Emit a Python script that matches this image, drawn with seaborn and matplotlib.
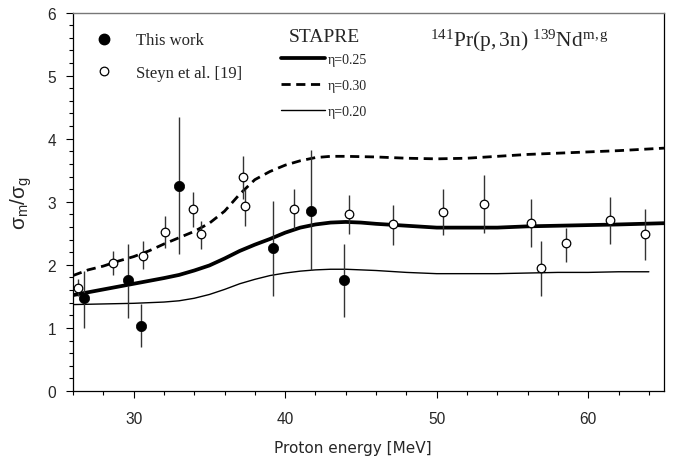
import numpy as np
import pandas as pd
import matplotlib
matplotlib.use("Agg")
import matplotlib.pyplot as plt
import seaborn as sns
from matplotlib.lines import Line2D
from matplotlib.ticker import MultipleLocator

# ---------------- data ----------------
# This work (filled circles)
tw_E = [26.7, 29.6, 30.5, 33.0, 39.2, 41.7, 43.9]
tw_y = [1.48, 1.76, 1.03, 3.25, 2.26, 2.86, 1.76]
tw_lo = [1.00, 1.15, 0.70, 2.17, 1.51, 1.92, 1.18]
tw_hi = [1.90, 2.33, 1.38, 4.35, 3.01, 3.82, 2.33]

# Steyn et al. [19] (open circles)
st_E = [26.35, 28.65, 30.65, 32.05, 33.95, 34.45, 37.25, 37.35, 40.6, 44.2,
        47.1, 50.4, 53.1, 56.2, 56.9, 58.5, 61.45, 63.75]
st_y = [1.64, 2.03, 2.14, 2.52, 2.88, 2.49, 3.39, 2.93, 2.88, 2.80,
        2.64, 2.84, 2.96, 2.66, 1.95, 2.35, 2.71, 2.49]
st_lo = [1.50, 1.84, 1.93, 2.26, 2.60, 2.25, 3.05, 2.62, 2.57, 2.49,
         2.32, 2.48, 2.50, 2.28, 1.51, 2.05, 2.33, 2.08]
st_hi = [1.78, 2.22, 2.37, 2.77, 3.16, 2.70, 3.73, 3.20, 3.20, 3.11,
         2.95, 3.20, 3.42, 3.04, 2.38, 2.59, 3.07, 2.88]

# STAPRE curves
e25_E = [26, 28, 30, 32, 33, 34, 35, 36, 37, 38, 39, 40, 41, 42, 43, 44, 45, 46,
         48, 50, 52, 54, 56, 58, 60, 62, 65]
e25_y = [1.52, 1.61, 1.70, 1.79, 1.84, 1.91, 1.99, 2.10, 2.22, 2.32, 2.41, 2.51,
         2.59, 2.64, 2.67, 2.68, 2.67, 2.65, 2.62, 2.59, 2.59, 2.59, 2.61, 2.62,
         2.63, 2.64, 2.66]
e30_E = [26, 27, 28, 29, 30, 31, 32, 33, 34, 35, 36, 37, 38, 39, 40, 41, 42, 43,
         44, 46, 48, 50, 52, 54, 56, 58, 60, 62, 65]
e30_y = [1.83, 1.92, 1.98, 2.06, 2.13, 2.22, 2.33, 2.43, 2.53, 2.66, 2.85, 3.12,
         3.35, 3.48, 3.58, 3.65, 3.70, 3.72, 3.72, 3.71, 3.69, 3.68, 3.69, 3.72,
         3.75, 3.77, 3.79, 3.81, 3.85]
e20_E = [26, 28, 30, 32, 33, 34, 35, 36, 37, 38, 39, 40, 41, 42, 43, 44, 46, 48,
         50, 52, 54, 56, 58, 60, 62, 64]
e20_y = [1.37, 1.38, 1.39, 1.41, 1.43, 1.47, 1.53, 1.61, 1.70, 1.77, 1.83, 1.87,
         1.90, 1.92, 1.93, 1.93, 1.91, 1.88, 1.86, 1.86, 1.86, 1.87, 1.88, 1.88,
         1.89, 1.89]

x_ticks = [30, 40, 50, 60]
y_ticks = [0, 1, 2, 3, 4, 5, 6]
legend_points = ["This work", "Steyn et al. [19]"]
legend_lines = ["\u03b7=0.25", "\u03b7=0.30", "\u03b7=0.20"]

# ---------------- style ----------------
sns.set_style("ticks")
plt.rcParams["font.family"] = ["Liberation Sans", "DejaVu Sans"]
plt.rcParams["mathtext.fontset"] = "custom"
plt.rcParams["mathtext.rm"] = "Liberation Serif"
plt.rcParams["mathtext.sf"] = "Liberation Sans"
plt.rcParams["mathtext.it"] = "Liberation Serif:italic"

W, H = 682, 460
fig = plt.figure(figsize=(W / 100, H / 100), dpi=100)
ax = fig.add_axes([73 / W, (H - 392) / H, 591 / W, (392 - 13.5) / H])

# curves
sns.lineplot(x=e25_E, y=e25_y, ax=ax, color="black", lw=2.7, estimator=None, sort=False, zorder=3)
sns.lineplot(x=e30_E, y=e30_y, ax=ax, color="black", lw=2.0, estimator=None, sort=False,
             linestyle=(0, (3.3, 2.0)), zorder=3)
sns.lineplot(x=e20_E, y=e20_y, ax=ax, color="black", lw=1.0, estimator=None, sort=False, zorder=3)

# error bars
tw_yerr = [np.array(tw_y) - np.array(tw_lo), np.array(tw_hi) - np.array(tw_y)]
st_yerr = [np.array(st_y) - np.array(st_lo), np.array(st_hi) - np.array(st_y)]
ax.errorbar(st_E, st_y, yerr=st_yerr, fmt="none", ecolor="#333333", elinewidth=1.0, capsize=0, zorder=4)
ax.errorbar(tw_E, tw_y, yerr=tw_yerr, fmt="none", ecolor="#333333", elinewidth=1.0, capsize=0, zorder=4)

# points
sns.scatterplot(x=st_E, y=st_y, ax=ax, s=38, color="white", edgecolor="black", linewidth=0.9, zorder=5)
sns.scatterplot(x=tw_E, y=tw_y, ax=ax, s=55, color="black", edgecolor="black", linewidth=0.5, zorder=6)

# axes
ax.set_xlim(26, 65)
ax.set_ylim(0, 6)
ax.set_xticks(x_ticks)
ax.set_yticks(y_ticks)
ax.xaxis.set_minor_locator(MultipleLocator(2))
ax.yaxis.set_minor_locator(MultipleLocator(0.2))
ax.tick_params(which="major", direction="out", length=5, width=0.8, color="black", labelsize=11.2)
ax.tick_params(which="minor", direction="out", length=3, width=0.8, color="black")
ax.tick_params(axis="y", which="major", pad=7)
ax.tick_params(axis="x", which="major", pad=9.3)
for s in ["left", "bottom", "right"]:
    ax.spines[s].set_color("black")
    ax.spines[s].set_linewidth(0.9)
ax.spines["top"].set_color("#777777")
ax.spines["top"].set_linewidth(1.0)

ax.set_xlabel("Proton energy [MeV]", fontsize=11, family="DejaVu Sans", va="center")
ax.xaxis.set_label_coords((353 - 73) / 591, -(449 - 392) / 378.5)
ax.set_ylabel("$\\mathsf{σ_m/σ_g}$", fontsize=15)
ax.yaxis.set_label_coords(-(73 - 34) / 591, 0.5)

# legends
h1 = [Line2D([], [], marker="o", ls="", color="black", markersize=7.5),
      Line2D([], [], marker="o", ls="", mfc="white", mec="black", markersize=6.2, mew=0.9)]
leg1 = ax.legend(handles=h1, labels=legend_points, loc="upper left",
                 bbox_to_anchor=(95.7 / W, 1 - 33.4 / H), bbox_transform=fig.transFigure,
                 frameon=False, borderpad=0, borderaxespad=0, handlelength=1.0,
                 handletextpad=1.42, labelspacing=0.99,
                 prop={"family": "Liberation Serif", "size": 12})
ax.add_artist(leg1)

h2 = [Line2D([], [], color="black", lw=2.7),
      Line2D([], [], color="black", lw=2.0, linestyle=(0, (3.3, 2.0))),
      Line2D([], [], color="black", lw=1.0)]
leg2 = ax.legend(handles=h2, labels=legend_lines, loc="upper left",
                 bbox_to_anchor=(281 / W, 1 - 54 / H), bbox_transform=fig.transFigure,
                 frameon=False, borderpad=0, borderaxespad=0, handlelength=3.2,
                 handletextpad=0.2, labelspacing=0.94,
                 prop={"family": "Liberation Serif", "size": 10})

fig.text(289 / W, 1 - 37 / H, "STAPRE", va="center", ha="left",
         family="Liberation Serif", fontsize=14)
fig.text(430 / W, 1 - 47 / H, r"$\mathrm{^{141}Pr(p,3n)\ ^{139}Nd^{m,g}}$",
         va="baseline", ha="left", fontsize=15.5)

fig.savefig("out.png", dpi=100)
